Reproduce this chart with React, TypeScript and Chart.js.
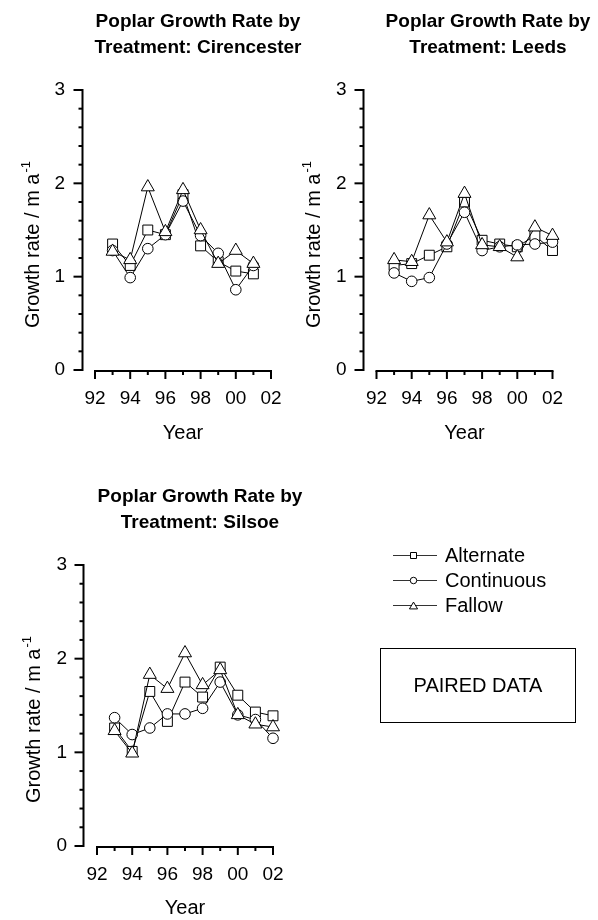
import React, { useEffect, useRef } from "react";
import { Chart, registerables } from "chart.js";

Chart.register(...registerables);

const FONT = "'Liberation Sans', Arial, Helvetica, sans-serif";
const W = 598;
const H = 920;

// ---------------- data ----------------
const cirencesterYears = [1993, 1994, 1995, 1996, 1997, 1998, 1999, 2000, 2001];
const cirencesterAlternate = [1.35, 1.12, 1.5, 1.45, 1.88, 1.33, 1.16, 1.06, 1.03];
const cirencesterContinuous = [1.28, 0.99, 1.3, 1.45, 1.81, 1.44, 1.25, 0.86, 1.12];
const cirencesterFallow = [1.27, 1.18, 1.96, 1.48, 1.93, 1.5, 1.14, 1.28, 1.14];

const leedsYears = [1993, 1994, 1995, 1996, 1997, 1998, 1999, 2000, 2001, 2002];
const leedsAlternate = [1.12, 1.14, 1.23, 1.32, 1.8, 1.39, 1.35, 1.32, 1.44, 1.28];
const leedsContinuous = [1.04, 0.95, 0.99, 1.35, 1.69, 1.28, 1.32, 1.34, 1.35, 1.37];
const leedsFallow = [1.18, 1.16, 1.66, 1.37, 1.89, 1.34, 1.32, 1.21, 1.53, 1.44];

const silsoeYears = [1993, 1994, 1995, 1996, 1997, 1998, 1999, 2000, 2001, 2002];
const silsoeAlternate = [1.26, 1.01, 1.65, 1.33, 1.75, 1.59, 1.91, 1.61, 1.43, 1.39];
const silsoeContinuous = [1.37, 1.19, 1.26, 1.41, 1.41, 1.47, 1.75, 1.4, 1.35, 1.15];
const silsoeFallow = [1.23, 0.99, 1.83, 1.68, 2.06, 1.72, 1.88, 1.4, 1.3, 1.27];

const xTickValues = [1992, 1994, 1996, 1998, 2000, 2002];
const xTickLabels = ["92", "94", "96", "98", "00", "02"];
const yTickValues = [0, 1, 2, 3];
const yTickLabels = ["0", "1", "2", "3"];

const seriesNames = ["Alternate", "Continuous", "Fallow"];
const seriesStyles = ["rect", "circle", "triangle"];

// ---------------- layout ----------------
type Area = { left: number; right: number; top: number; bottom: number };
type PlotCfg = {
  key: string;
  titleLines: string[];
  years: number[];
  alternate: number[];
  continuous: number[];
  fallow: number[];
  area: Area;
  yAxisX: number;
  titleX: number;
  titleY: number;
  yTitleBaseX: number;
  yTitleStartY: number;
  yearY: number;
  legend?: boolean;
};

const Y_BOX = 60;
const X_BOX = 60;

const plots: PlotCfg[] = [
  {
    key: "cir",
    titleLines: ["Poplar Growth Rate by", "Treatment: Cirencester"],
    years: cirencesterYears,
    alternate: cirencesterAlternate,
    continuous: cirencesterContinuous,
    fallow: cirencesterFallow,
    area: { left: 95, right: 271, top: 90, bottom: 370 },
    yAxisX: 82.5,
    titleX: 198,
    titleY: 27,
    yTitleBaseX: 38.5,
    yTitleStartY: 328,
    yearY: 433,
  },
  {
    key: "leeds",
    titleLines: ["Poplar Growth Rate by", "Treatment: Leeds"],
    years: leedsYears,
    alternate: leedsAlternate,
    continuous: leedsContinuous,
    fallow: leedsFallow,
    area: { left: 376.5, right: 552.5, top: 90, bottom: 370 },
    yAxisX: 363.5,
    titleX: 488,
    titleY: 27,
    yTitleBaseX: 319.5,
    yTitleStartY: 328,
    yearY: 433,
  },
  {
    key: "silsoe",
    titleLines: ["Poplar Growth Rate by", "Treatment: Silsoe"],
    years: silsoeYears,
    alternate: silsoeAlternate,
    continuous: silsoeContinuous,
    fallow: silsoeFallow,
    area: { left: 97, right: 273, top: 565, bottom: 846 },
    yAxisX: 83.5,
    titleX: 200,
    titleY: 502,
    yTitleBaseX: 40,
    yTitleStartY: 803,
    yearY: 908,
    legend: true,
  },
];

function drawMarker(ctx: CanvasRenderingContext2D, style: string, x: number, y: number, s: number) {
  ctx.beginPath();
  if (style === "rect") {
    ctx.rect(x - s / 2, y - s / 2, s, s);
  } else if (style === "circle") {
    ctx.arc(x, y, s / 2, 0, Math.PI * 2);
  } else {
    const w = s * 1.25;
    const h = s * 1.05;
    ctx.moveTo(x, y - h / 2);
    ctx.lineTo(x + w / 2, y + h / 2);
    ctx.lineTo(x - w / 2, y + h / 2);
    ctx.closePath();
  }
  ctx.fillStyle = "#fff";
  ctx.fill();
  ctx.stroke();
}

function makeDecor(cfg: PlotCfg) {
  return {
    id: "decor_" + cfg.key,
    afterDraw(chart: any) {
      const ctx: CanvasRenderingContext2D = chart.ctx;
      const xs = chart.scales.x;
      const ys = chart.scales.y;
      ctx.save();
      ctx.strokeStyle = "#000";
      ctx.fillStyle = "#000";
      ctx.lineWidth = 2;
      // y axis
      const ax = cfg.yAxisX;
      const y0 = ys.getPixelForValue(0);
      const y3 = ys.getPixelForValue(3);
      ctx.beginPath();
      ctx.moveTo(ax, y0 + 1);
      ctx.lineTo(ax, y3 - 1);
      ctx.stroke();
      for (let i = 0; i <= 15; i++) {
        const v = i / 5;
        const y = ys.getPixelForValue(v);
        const major = i % 5 === 0;
        ctx.beginPath();
        ctx.moveTo(ax, y);
        ctx.lineTo(ax - (major ? 9 : 4), y);
        ctx.stroke();
      }
      // x axis
      const xa = y0 + 1;
      const xl = xs.getPixelForValue(1992);
      const xr = xs.getPixelForValue(2002);
      ctx.beginPath();
      ctx.moveTo(xl - 1, xa);
      ctx.lineTo(xr + 1, xa);
      ctx.stroke();
      for (let yr = 1992; yr <= 2002; yr++) {
        const x = xs.getPixelForValue(yr);
        ctx.beginPath();
        ctx.moveTo(x, xa);
        ctx.lineTo(x, xa + (yr % 2 === 0 ? 8 : 4));
        ctx.stroke();
      }
      // title
      ctx.font = `bold 19px ${FONT}`;
      ctx.textAlign = "center";
      ctx.textBaseline = "alphabetic";
      cfg.titleLines.forEach((t, i) => ctx.fillText(t, cfg.titleX, cfg.titleY + i * 26));
      // x title
      ctx.font = `20px ${FONT}`;
      ctx.textBaseline = "middle";
      ctx.fillText("Year", (xl + xr) / 2, cfg.yearY);
      // y title
      ctx.save();
      ctx.translate(cfg.yTitleBaseX, cfg.yTitleStartY);
      ctx.rotate(-Math.PI / 2);
      ctx.textAlign = "left";
      ctx.textBaseline = "alphabetic";
      ctx.font = `20px ${FONT}`;
      const main = "Growth rate / m a";
      ctx.fillText(main, 0, 0);
      const w1 = ctx.measureText(main).width;
      ctx.font = `13px ${FONT}`;
      ctx.fillText("-1", w1 + 1, -9);
      ctx.restore();

      if (cfg.legend) {
        ctx.lineWidth = 1;
        ctx.font = `20px ${FONT}`;
        ctx.textAlign = "left";
        ctx.textBaseline = "middle";
        const rows = [555, 580, 605];
        seriesNames.forEach((name, i) => {
          const y = rows[i];
          ctx.strokeStyle = "#333";
          ctx.beginPath();
          ctx.moveTo(393, y + 0.5);
          ctx.lineTo(437, y + 0.5);
          ctx.stroke();
          ctx.strokeStyle = "#000";
          drawMarker(ctx, seriesStyles[i], 413.5, y + 0.5, i === 0 ? 6 : 6.5);
          ctx.fillStyle = "#000";
          ctx.fillText(name, 445, y + 1);
        });
        // PAIRED DATA box
        ctx.lineWidth = 1;
        ctx.strokeRect(380.5, 648.5, 195, 74);
        ctx.textAlign = "center";
        ctx.fillText("PAIRED DATA", 478, 686);
      }
      ctx.restore();
    },
  };
}

function Plot({ cfg }: { cfg: PlotCfg }) {
  const ref = useRef<HTMLCanvasElement>(null);
  useEffect(() => {
    const a = cfg.area;
    const mk = (label: string, data: number[], style: string, radius: number) => ({
      label,
      data: cfg.years.map((yr, i) => ({ x: yr, y: data[i] })),
      borderColor: "#000",
      backgroundColor: "#fff",
      borderWidth: 1,
      pointStyle: style,
      pointRadius: radius,
      pointBorderWidth: 1,
      pointBorderColor: "#000",
      pointBackgroundColor: "#fff",
      tension: 0,
      fill: false,
      clip: false,
    });
    const chart = new Chart(ref.current as HTMLCanvasElement, {
      type: "line",
      data: {
        datasets: [
          mk("Fallow", cfg.fallow, "triangle", 7.5),
          mk("Continuous", cfg.continuous, "circle", 5.3),
          mk("Alternate", cfg.alternate, "rect", 7),
        ],
      },
      options: {
        responsive: false,
        animation: false,
        devicePixelRatio: 1,
        events: [],
        layout: {
          padding: {
            left: a.left - Y_BOX,
            right: W - a.right,
            top: a.top,
            bottom: H - a.bottom - X_BOX,
          },
        },
        plugins: {
          legend: { display: false },
          tooltip: { enabled: false },
          title: { display: false },
        },
        scales: {
          x: {
            type: "linear",
            min: 1992,
            max: 2002,
            grid: { display: false, drawTicks: false },
            border: { display: false },
            afterBuildTicks: (s: any) => {
              s.ticks = xTickValues.map((v) => ({ value: v }));
            },
            afterFit: (s: any) => {
              s.height = X_BOX;
              s.paddingLeft = 0;
              s.paddingRight = 0;
            },
            ticks: {
              autoSkip: false,
              maxRotation: 0,
              minRotation: 0,
              padding: 17,
              color: "#000",
              font: { family: FONT, size: 19 },
              callback: (v: any) => {
                const i = xTickValues.indexOf(Number(v));
                return i >= 0 ? xTickLabels[i] : "";
              },
            },
          },
          y: {
            type: "linear",
            min: 0,
            max: 3,
            grid: { display: false, drawTicks: false },
            border: { display: false },
            afterBuildTicks: (s: any) => {
              s.ticks = yTickValues.map((v) => ({ value: v }));
            },
            afterFit: (s: any) => {
              s.width = Y_BOX;
              s.paddingTop = 0;
              s.paddingBottom = 0;
            },
            ticks: {
              autoSkip: false,
              padding: 30,
              color: "#000",
              font: { family: FONT, size: 19 },
              callback: (v: any) => {
                const i = yTickValues.indexOf(Number(v));
                return i >= 0 ? yTickLabels[i] : "";
              },
            },
          },
        },
      } as any,
      plugins: [makeDecor(cfg)],
    });
    return () => chart.destroy();
  }, [cfg]);
  return (
    <canvas
      ref={ref}
      width={W}
      height={H}
      style={{ position: "absolute", left: 0, top: 0, width: W, height: H }}
    />
  );
}

export default function App() {
  return (
    <div style={{ position: "absolute", left: 0, top: 0, width: W, height: H, background: "#fff" }}>
      {plots.map((p) => (
        <Plot key={p.key} cfg={p} />
      ))}
    </div>
  );
}
